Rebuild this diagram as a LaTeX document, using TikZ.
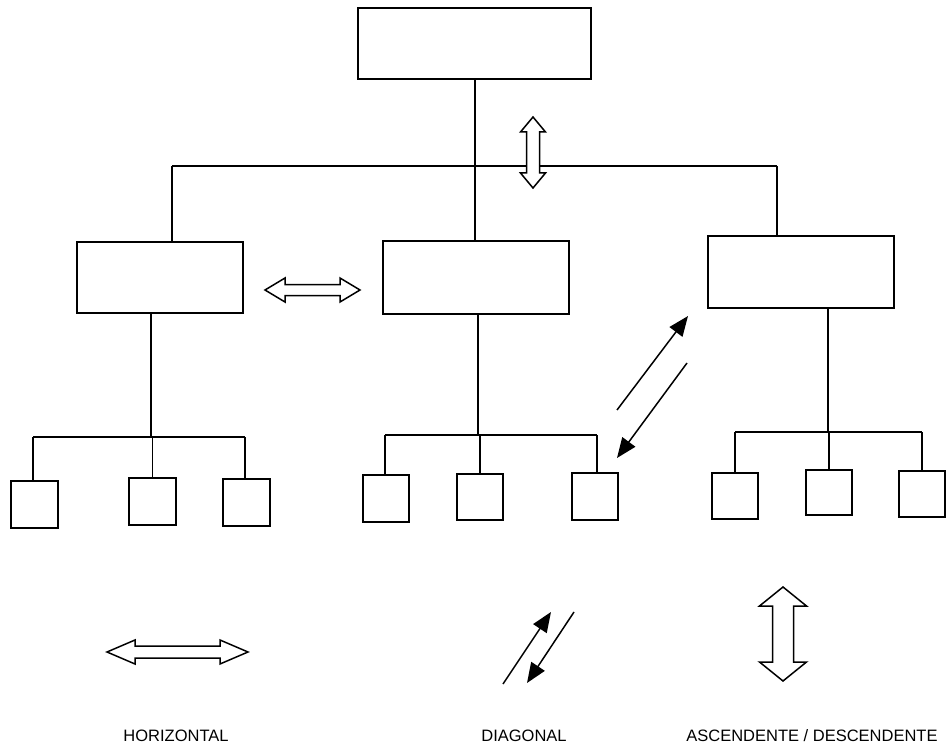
\documentclass[tikz,border=0pt]{standalone}
\usepackage{fontspec}
\setmainfont{Liberation Sans}
\usetikzlibrary{arrows.meta}
\begin{document}
\begin{tikzpicture}[x=1pt,y=-1pt,
  line width=1.7pt, line join=miter,
  box/.style={draw, line width=1.7pt, inner sep=0pt, anchor=north west},
  wire/.style={line width=1.5pt},
  solidarrow/.style={line width=1.5pt, -{Triangle[length=20pt,width=16pt]}},
  lbl/.style={font=\fontsize{16.5}{16.5}\selectfont, anchor=base}]
\useasboundingbox (0,0) rectangle (946,749);

% hollow double arrows: horizontal (x1,x2,y,head length,head half,shaft half)
\newcommand\hollowh[6]{%
  \draw[line width=1.5pt] (#1,#3) -- (#1+#4,#3-#5) -- (#1+#4,#3-#6) -- (#2-#4,#3-#6)
    -- (#2-#4,#3-#5) -- (#2,#3) -- (#2-#4,#3+#5) -- (#2-#4,#3+#6)
    -- (#1+#4,#3+#6) -- (#1+#4,#3+#5) -- cycle;}
% vertical (y1,y2,x,head length,head half,shaft half)
\newcommand\hollowv[6]{%
  \draw[line width=1.5pt,fill=white] (#3,#1) -- (#3+#5,#1+#4) -- (#3+#6,#1+#4) -- (#3+#6,#2-#4)
    -- (#3+#5,#2-#4) -- (#3,#2) -- (#3-#5,#2-#4) -- (#3-#6,#2-#4)
    -- (#3-#6,#1+#4) -- (#3-#5,#1+#4) -- cycle;}

% top level
\node[box, minimum width=233pt, minimum height=71pt] (top) at (357,7) {};

% middle level
\node[box, minimum width=166pt, minimum height=71pt] (left)  at (76,241) {};
\node[box, minimum width=186pt, minimum height=73pt] (mid)   at (382,240) {};
\node[box, minimum width=186pt, minimum height=72pt] (right) at (707,235) {};

% bottom level
\node[box, minimum width=47pt, minimum height=47pt] (l1) at (10,480) {};
\node[box, minimum width=47pt, minimum height=47pt] (l2) at (128,477) {};
\node[box, minimum width=47pt, minimum height=47pt] (l3) at (222,478) {};
\node[box, minimum width=46pt, minimum height=47pt] (m1) at (362,474) {};
\node[box, minimum width=46pt, minimum height=46pt] (m2) at (456,473) {};
\node[box, minimum width=46pt, minimum height=47pt] (m3) at (571,472) {};
\node[box, minimum width=46pt, minimum height=46pt] (r1) at (711,472) {};
\node[box, minimum width=46pt, minimum height=45pt] (r2) at (805,469) {};
\node[box, minimum width=46pt, minimum height=46pt] (r3) at (898,470) {};

% upper bus
\coordinate (busL) at (172,166);
\coordinate (busR) at (777,166);
\draw[wire] (top.south -| 475,0) -- (mid.north -| 475,0);
\draw[wire] (busL) -- (busR);
\draw[wire] (busL) -- (busL |- left.north);
\draw[wire] (busR) -- (busR |- right.north);

% left group
\coordinate (lbL) at (33,437);
\coordinate (lbR) at (245,437);
\draw[wire] (left.south -| 151,0) -- (151,437);
\draw[wire] (lbL) -- (lbR);
\draw[wire] (lbL) -- (lbL |- l1.north);
\draw[wire] (l2.north) -- (l2.north |- lbL);
\draw[wire] (lbR) -- (lbR |- l3.north);

% middle group
\coordinate (mbL) at (385,435);
\coordinate (mbR) at (597,435);
\draw[wire] (mid.south -| 478,0) -- (478,435);
\draw[wire] (mbL) -- (mbR);
\draw[wire] (mbL) -- (mbL |- m1.north);
\draw[wire] (m2.north) -- (m2.north |- mbL);
\draw[wire] (mbR) -- (mbR |- m3.north);

% right group
\coordinate (rbL) at (735,432);
\coordinate (rbR) at (922,432);
\draw[wire] (right.south -| 828,0) -- (828,432);
\draw[wire] (rbL) -- (rbR);
\draw[wire] (rbL) -- (rbL |- r1.north);
\draw[wire] (r2.north) -- (r2.north |- rbL);
\draw[wire] (rbR) -- (rbR |- r3.north);

% communication arrows in the chart
\hollowv{117}{188}{533}{15}{12.5}{6.5}
\hollowh{265}{360}{290}{20}{12}{5.5}
\coordinate (d1a) at (617,410);
\coordinate (d1b) at (688,316);
\coordinate (d2a) at (687,363);
\coordinate (d2b) at (617,458);
\draw[solidarrow] (d1a) -- (d1b);
\draw[solidarrow] (d2a) -- (d2b);

% legend
\hollowh{107}{248}{652}{28}{12}{6}
\coordinate (e1a) at (503,684);
\coordinate (e1b) at (551,612);
\coordinate (e2a) at (574,612);
\coordinate (e2b) at (527,683);
\draw[solidarrow] (e1a) -- (e1b);
\draw[solidarrow] (e2a) -- (e2b);
\hollowv{587}{681}{783}{19}{23.5}{10.5}

\node[lbl] (th) at (176,741) {HORIZONTAL};
\node[lbl] (td) at (524,741) {DIAGONAL};
\node[lbl] (ta) at (812,741) {ASCENDENTE / DESCENDENTE};
\end{tikzpicture}
\end{document}
